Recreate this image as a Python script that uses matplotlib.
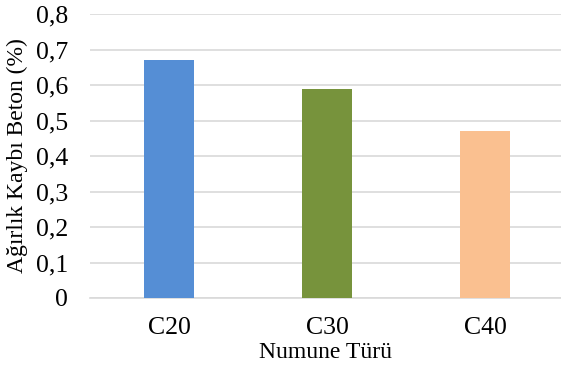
import matplotlib
matplotlib.use("Agg")
import matplotlib.pyplot as plt
from matplotlib.ticker import FuncFormatter

categories = ["C20", "C30", "C40"]
values = [0.67, 0.59, 0.47]
colors = ["#558ED5", "#77933C", "#FAC090"]
yticks = [0, 0.1, 0.2, 0.3, 0.4, 0.5, 0.6, 0.7, 0.8]

plt.rcParams['font.family'] = ['Liberation Serif', 'DejaVu Serif']

fig = plt.figure(figsize=(5.61, 3.69), dpi=100)
ax = fig.add_axes([90/561, 1-298/369, 1-90/561, (298-14)/369])

x = list(range(len(categories)))
ax.bar(x, values, width=0.316, color=colors, zorder=3)
ax.set_xlim(-0.5, 2 + 76/158)
ax.set_ylim(0, 0.8)
ax.set_yticks(yticks)
ax.yaxis.set_major_formatter(FuncFormatter(lambda v, p: "0" if v == 0 else f"{v:.1f}".replace(".", ",")))
ax.set_xticks(x)
ax.set_xticklabels(categories)
ax.grid(axis='y', color='#D9D9D9', linewidth=1.2, zorder=0)
for s in ['top', 'right', 'left']:
    ax.spines[s].set_visible(False)
ax.spines['bottom'].set_color('#D9D9D9')
ax.spines['bottom'].set_linewidth(1.2)
ax.tick_params(axis='both', length=0, labelsize=18.5, colors='black')
ax.tick_params(axis='y', pad=16)
ax.tick_params(axis='x', pad=14)
ax.set_xlabel("Numune Türü", fontsize=17, labelpad=2)
ax.set_ylabel("Ağırlık Kaybı Beton (%)", fontsize=17)
ax.yaxis.set_label_coords(-(90-28)/471, 0.5)

fig.savefig("out.png", dpi=100)
